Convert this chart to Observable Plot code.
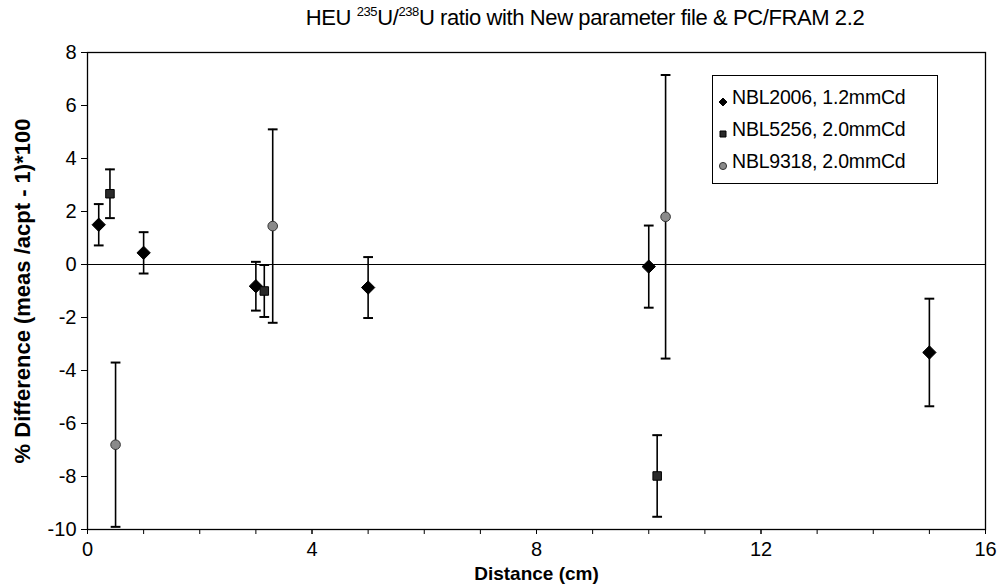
<!DOCTYPE html>
<html>
<head>
<meta charset="utf-8">
<script src="https://cdn.jsdelivr.net/npm/d3@7"></script>
<script src="https://cdn.jsdelivr.net/npm/@observablehq/plot@0.6"></script>
<style>
  body { margin: 0; background: #fff; font-family: "Liberation Sans", Arial, sans-serif; }
  #wrap { position: relative; width: 998px; height: 587px; }
  #title { position: absolute; left: 0; width: 1170px; top: 5px; text-align: center; font-size: 22px; color: #000; letter-spacing: -0.4px; white-space: nowrap; }
  #title sup { font-size: 13px; vertical-align: 0; position: relative; top: -9px; }
  #legend { position: absolute; left: 712px; top: 75px; width: 226px; height: 109px; border: 1px solid #000; background: #fff; box-sizing: border-box; font-size: 19.5px; }
  .item { position: absolute; left: 4px; height: 24px; line-height: 24px; white-space: nowrap; letter-spacing: -0.2px; }
  .item svg { vertical-align: middle; margin-right: 3px; position: relative; top: 3px; }
</style>
</head>
<body>
<div id="wrap">
  <div id="chart"></div>
  <div id="title">HEU <sup>235</sup>U/<sup>238</sup>U ratio with New parameter file &amp; PC/FRAM 2.2</div>
  <div id="legend"></div>
</div>
<script>
// ---- data ----
const seriesNames = ["NBL2006, 1.2mmCd", "NBL5256, 2.0mmCd", "NBL9318, 2.0mmCd"];

const nbl2006X   = [0.2, 1.0, 3.0, 5.0, 10.0, 15.0];
const nbl2006Y   = [1.5, 0.44, -0.82, -0.87, -0.08, -3.32];
const nbl2006Err = [0.78, 0.78, 0.92, 1.15, 1.55, 2.03];

const nbl5256X   = [0.4, 3.15, 10.15];
const nbl5256Y   = [2.67, -1.0, -7.98];
const nbl5256Err = [0.92, 0.98, 1.54];

const nbl9318X   = [0.5, 3.3, 10.3];
const nbl9318Y   = [-6.8, 1.45, 1.8];
const nbl9318Err = [3.1, 3.65, 5.35];

const xTickLabels = [0, 4, 8, 12, 16];
const xMinorTicks = [0,1,2,3,4,5,6,7,8,9,10,11,12,13,14,15,16];
const yTickLabels = [-10, -8, -6, -4, -2, 0, 2, 4, 6, 8];

// ---- build table ----
function rows(name, xs, ys, es) {
  return xs.map((x, i) => ({series: name, x, y: ys[i], lo: ys[i] - es[i], hi: ys[i] + es[i]}));
}
const data = [
  ...rows(seriesNames[0], nbl2006X, nbl2006Y, nbl2006Err),
  ...rows(seriesNames[1], nbl5256X, nbl5256Y, nbl5256Err),
  ...rows(seriesNames[2], nbl9318X, nbl9318Y, nbl9318Err)
];

const capSymbol = {
  draw(ctx, size) {
    const w = Math.sqrt(size) / 2;
    ctx.moveTo(-w, 0); ctx.lineTo(w, 0);
  }
};

const styles = {
  [seriesNames[0]]: {symbol: "diamond2", fill: "#000", stroke: "#000", r: 6},
  [seriesNames[1]]: {symbol: "square", fill: "#2a2a2a", stroke: "#000", r: 4.8},
  [seriesNames[2]]: {symbol: "circle", fill: "#8a8a8a", stroke: "#333", r: 4.8}
};

const font = "'Liberation Sans', Arial, sans-serif";
const hyphen = d => String(d).replace("\u2212", "-");

const dotMarks = seriesNames.map(name => Plot.dot(data.filter(d => d.series === name), {
  x: "x", y: "y", symbol: styles[name].symbol, r: styles[name].r,
  fill: styles[name].fill, stroke: styles[name].stroke, strokeWidth: 1
}));

const chart = Plot.plot({
  width: 998, height: 587,
  marginLeft: 87, marginRight: 13, marginTop: 52, marginBottom: 58,
  style: {fontFamily: font, background: "#fff", color: "#000"},
  x: {domain: [0, 16]},
  y: {domain: [-10, 8]},
  marks: [
    Plot.ruleY([0], {stroke: "#000", strokeWidth: 1}),
    Plot.ruleX(data, {x: "x", y1: "lo", y2: "hi", stroke: "#000", strokeWidth: 1.6}),
    Plot.dot(data, {x: "x", y: "lo", symbol: capSymbol, r: 5.5, stroke: "#000", strokeWidth: 2, fill: "none"}),
    Plot.dot(data, {x: "x", y: "hi", symbol: capSymbol, r: 5.5, stroke: "#000", strokeWidth: 2, fill: "none"}),
    ...dotMarks,
    Plot.frame({stroke: "#000", strokeWidth: 1.3}),
    Plot.axisX({ticks: xMinorTicks, tickFormat: () => "", tickSize: 5, stroke: "#000", label: null}),
    Plot.axisX({ticks: xTickLabels, tickSize: 5, tickPadding: 7, fontSize: 20, label: null, stroke: "#000", tickFormat: d => String(d)}),
    Plot.axisY({ticks: yTickLabels, tickSize: 6, tickPadding: 5, fontSize: 20, label: null, stroke: "#000", tickFormat: d => String(d)}),
    Plot.text(["Distance (cm)"], {frameAnchor: "bottom", dy: 50, fontSize: 19, fontWeight: "bold", fill: "#000", letterSpacing: -0.5}),
    Plot.text(["% Difference (meas /acpt - 1)*100"], {frameAnchor: "left", dx: -65, textAnchor: "middle", rotate: -90, fontSize: 22, fontWeight: "bold", fill: "#000"})
  ]
});
document.getElementById("chart").appendChild(chart);

// ---- legend ----
const legend = document.getElementById("legend");
const legendSymbols = {
  [seriesNames[0]]: d3.symbol(d3.symbolDiamond2, 40),
  [seriesNames[1]]: d3.symbol(d3.symbolSquare, 36),
  [seriesNames[2]]: d3.symbol(d3.symbolCircle, 40)
};
seriesNames.forEach((name, i) => {
  const div = document.createElement("div");
  div.className = "item";
  div.style.top = (9 + i * 32) + "px";
  const s = styles[name];
  div.innerHTML = `<svg width="12" height="12" viewBox="-6 -6 12 12"><path d="${legendSymbols[name]()}" fill="${s.fill}" stroke="${s.stroke}" stroke-width="1"></path></svg>${name}`;
  legend.appendChild(div);
});
</script>
</body>
</html>
